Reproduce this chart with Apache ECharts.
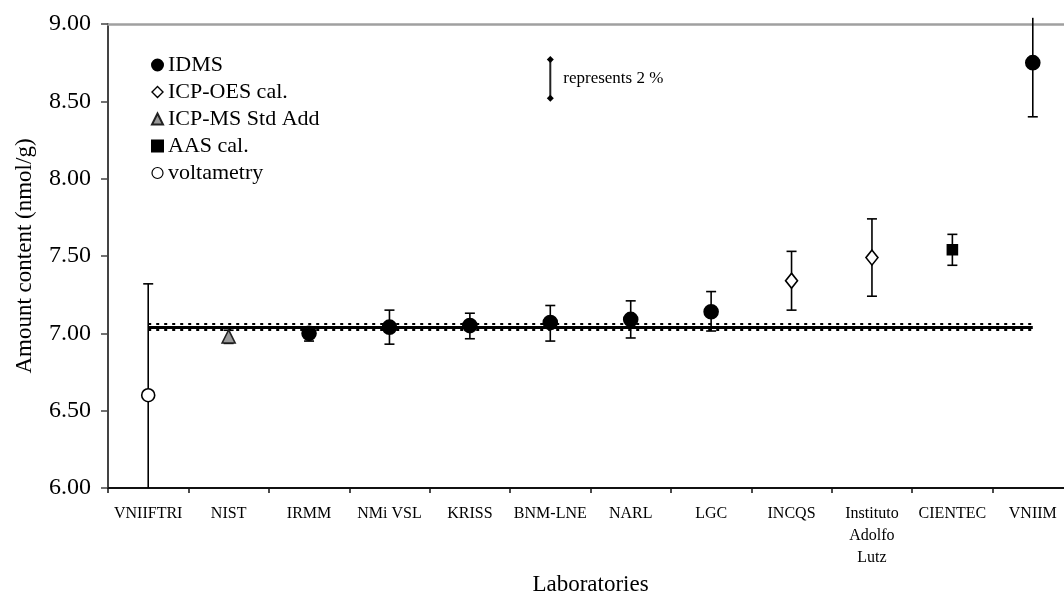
<!DOCTYPE html>
<html>
  <meta charset="UTF-8">
  <title>Amount content by laboratory</title>
  <style type="text/css">
    html,body{margin:0px;height:100%;width:100%;background:#fff}
    .container{width:1064px;height:593px}
  </style>
  <script type="text/javascript" src="https://cdn.jsdelivr.net/npm/echarts@6/dist/echarts.min.js"></script>
  <body>
    <div id="chart" class="container"></div>

    <script>
      // data
      var labs = ['VNIIFTRI', 'NIST', 'IRMM', 'NMi VSL', 'KRISS', 'BNM-LNE', 'NARL', 'LGC',
                  'INCQS', 'Instituto\nAdolfo\nLutz', 'CIENTEC', 'VNIIM'];
      var methods = ['voltametry', 'ICP-MS Std Add', 'IDMS', 'IDMS', 'IDMS', 'IDMS', 'IDMS', 'IDMS',
                     'ICP-OES cal.', 'ICP-OES cal.', 'AAS cal.', 'IDMS'];
      var amount = [6.60, 6.98, 7.00, 7.04, 7.05, 7.07, 7.09, 7.14, 7.34, 7.49, 7.54, 8.75];
      var upper  = [7.32, 7.02, 7.04, 7.15, 7.13, 7.18, 7.21, 7.27, 7.53, 7.74, 7.64, 9.04];
      var lower  = [6.00, 6.935, 6.95, 6.93, 6.965, 6.95, 6.97, 7.015, 7.15, 7.24, 7.44, 8.40];
      var refValue = 7.04;
      var refBand = [7.02, 7.06];
      var scaleBar = [8.52, 8.77];
      var yTicks = [6.0, 6.5, 7.0, 7.5, 8.0, 8.5, 9.0];

      var FONT = '"Liberation Serif", "Times New Roman", serif';

      var legendOrder = ['IDMS', 'ICP-OES cal.', 'ICP-MS Std Add', 'AAS cal.', 'voltametry'];
      var symbolFor = {
        'IDMS':           { symbol: 'circle',   size: 14, color: '#000', border: '#000' },
        'ICP-OES cal.':   { symbol: 'diamond',  size: [12, 15], color: '#fff', border: '#000' },
        'ICP-MS Std Add': { symbol: 'triangle', size: 13, color: '#999', border: '#222' },
        'AAS cal.':       { symbol: 'rect',     size: 10, color: '#000', border: '#000' },
        'voltametry':     { symbol: 'circle',   size: 13, color: '#fff', border: '#000' }
      };

      var chart = echarts.init(document.getElementById('chart'));

      var barData = labs.map(function (l, i) { return [i, lower[i], upper[i]]; });

      var series = [];

      // error bars
      series.push({
        type: 'custom',
        name: 'error',
        xAxisIndex: 0,
        z: 2,
        silent: true,
        clip: false,
        data: barData,
        renderItem: function (params, api) {
          var x = api.value(0);
          var lo = api.value(1), hi = api.value(2);
          var p1 = api.coord([x, lo]);
          var p2 = api.coord([x, hi]);
          var w = 5;
          var children = [{
            type: 'line',
            shape: { x1: p1[0], y1: p1[1], x2: p2[0], y2: p2[1] },
            style: { stroke: '#000', lineWidth: 1.6 }
          }];
          [[lo, p1], [hi, p2]].forEach(function (e) {
            if (e[0] > 6 && e[0] < 9) {
              children.push({
                type: 'line',
                shape: { x1: e[1][0] - w, y1: e[1][1], x2: e[1][0] + w, y2: e[1][1] },
                style: { stroke: '#000', lineWidth: 1.6 }
              });
            }
          });
          return { type: 'group', children: children };
        }
      });

      // reference value and its band
      series.push({
        type: 'line',
        name: 'ref',
        data: [],
        z: 1,
        markLine: {
          silent: true,
          symbol: 'none',
          label: { show: false },
          animation: false,
          data: [
            [{ coord: [0, refValue], lineStyle: { color: '#000', width: 3, type: 'solid' } },
             { coord: [labs.length - 1, refValue] }],
            [{ coord: [0, refBand[0]], lineStyle: { color: '#000', width: 2, type: [3, 5] } },
             { coord: [labs.length - 1, refBand[0]] }],
            [{ coord: [0, refBand[1]], lineStyle: { color: '#000', width: 2, type: [3, 5] } },
             { coord: [labs.length - 1, refBand[1]] }]
          ]
        }
      });

      // the "represents 2 %" scale bar
      series.push({
        type: 'custom',
        name: 'scale',
        silent: true,
        clip: false,
        z: 3,
        data: [[4.69, scaleBar[0], scaleBar[1]]],
        renderItem: function (params, api) {
          var a = api.coord([api.value(0), api.value(1)]);
          var b = api.coord([api.value(0), api.value(2)]);
          function dia(p) {
            return { type: 'polygon', shape: { points: [[p[0], p[1] - 3.5], [p[0] + 3.5, p[1]], [p[0], p[1] + 3.5], [p[0] - 3.5, p[1]]] },
                     style: { fill: '#000' } };
          }
          return {
            type: 'group',
            children: [
              { type: 'line', shape: { x1: a[0], y1: a[1], x2: b[0], y2: b[1] }, style: { stroke: '#222', lineWidth: 2 } },
              dia(a), dia(b),
              { type: 'text', x: a[0] + 13, y: (a[1] + b[1]) / 2,
                style: { text: 'represents 2 %', fill: '#000', font: '17px ' + FONT, verticalAlign: 'middle' } }
            ]
          };
        }
      });

      legendOrder.forEach(function (m) {
        var s = symbolFor[m];
        var pts = [];
        labs.forEach(function (l, i) {
          if (methods[i] === m) pts.push([i, amount[i]]);
        });
        series.push({
          type: 'scatter',
          name: m,
          z: 5,
          symbol: s.symbol,
          symbolSize: s.size,
          itemStyle: { color: s.color, borderColor: s.border, borderWidth: 1.6, opacity: 1 },
          data: pts
        });
      });

      var option = {
        animation: false,
        backgroundColor: '#fff',
        textStyle: { fontFamily: FONT },
        grid: { left: 108, width: 965, top: 24, bottom: 105, outerBoundsMode: 'none', containLabel: false },
        legend: {
          orient: 'vertical',
          left: 146,
          top: 49,
          itemWidth: 11,
          itemHeight: 11,
          itemGap: 5,
          selectedMode: false,
          textStyle: { fontFamily: FONT, fontSize: 22, color: '#000' },
          data: [
            { name: 'IDMS', icon: 'circle' },
            { name: 'ICP-OES cal.', icon: 'diamond', itemStyle: { color: '#fff', borderColor: '#000', borderWidth: 1.4 } },
            { name: 'ICP-MS Std Add', icon: 'triangle' },
            { name: 'AAS cal.', icon: 'rect' },
            { name: 'voltametry', icon: 'circle', itemStyle: { color: '#fff', borderColor: '#000', borderWidth: 1.2 } }
          ]
        },
        xAxis: [{
          type: 'category',
          data: labs,
          name: 'Laboratories',
          nameLocation: 'middle',
          nameGap: 80,
          nameTextStyle: { fontFamily: FONT, fontSize: 23, color: '#000' },
          axisLine: { lineStyle: { color: '#111', width: 2 } },
          axisTick: { show: true, length: 5, lineStyle: { color: '#111', width: 1.5 } },
          axisLabel: { interval: 0, fontFamily: FONT, fontSize: 16, color: '#000', margin: 15, lineHeight: 22 },
          splitLine: { show: false }
        }, {
          type: 'category',
          data: labs,
          position: 'top',
          axisLine: { lineStyle: { color: '#a0a0a0', width: 2.5 } },
          axisTick: { show: false },
          axisLabel: { show: false },
          splitLine: { show: false }
        }],
        yAxis: {
          type: 'value',
          min: yTicks[0],
          max: yTicks[yTicks.length - 1],
          interval: 0.5,
          name: 'Amount content (nmol/g)',
          nameLocation: 'middle',
          nameGap: 72,
          nameTextStyle: { fontFamily: FONT, fontSize: 23, color: '#000' },
          axisLine: { show: true, lineStyle: { color: '#444', width: 2 } },
          axisTick: { show: true, length: 7, lineStyle: { color: '#444', width: 1.5 } },
          axisLabel: {
            fontFamily: FONT, fontSize: 24, color: '#000', margin: 17,
            formatter: function (v) { return v.toFixed(2); }
          },
          splitLine: { show: false }
        },
        series: series
      };

      chart.setOption(option);
    </script>
  </body>
</html>
